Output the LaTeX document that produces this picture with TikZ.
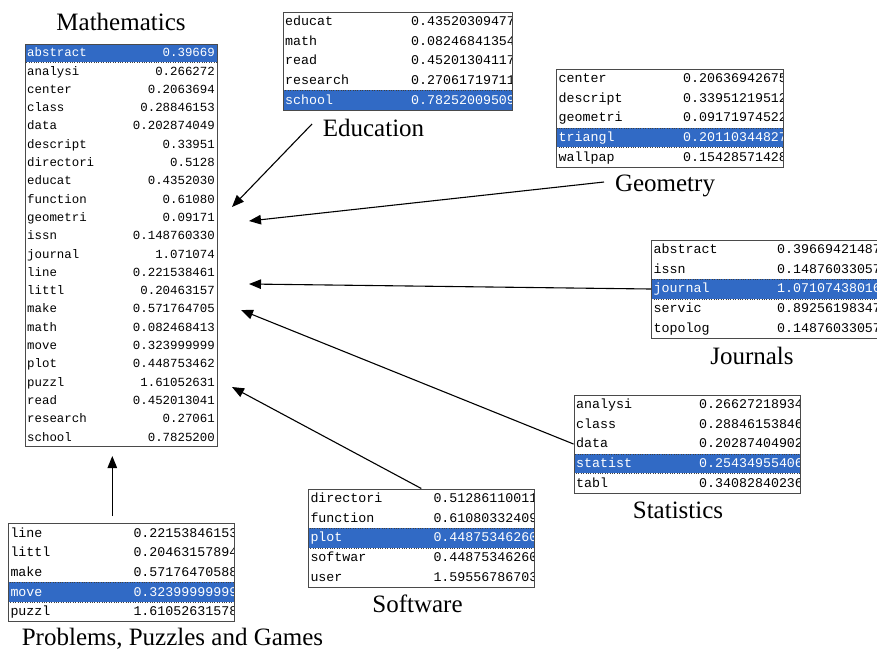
\documentclass[tikz,border=0pt]{standalone}
\usepackage{fontspec}
\setmainfont{Liberation Serif}
\setmonofont{Liberation Mono}
\usetikzlibrary{arrows.meta}

\definecolor{selblue}{HTML}{316AC5}
\definecolor{framegray}{HTML}{4A4A4A}
\newcommand{\bigtabfont}{\ttfamily\fontsize{12.4}{14}\selectfont}
\newcommand{\tabfont}{\ttfamily\fontsize{13.3}{15}\selectfont}

\tikzstyle{tablebox} = [draw = framegray, line width = 1pt, inner sep = 0pt]
\tikzstyle{selrow} = [fill = selblue, draw = black!75, dotted, thin]
\tikzstyle{word} = [anchor = base west, inner sep = 0pt, font = \tabfont]
\tikzstyle{bigword} = [anchor = base west, inner sep = 0pt, font = \bigtabfont]
\tikzstyle{bigval} = [anchor = base east, inner sep = 0pt, font = \bigtabfont]
\tikzstyle{title} = [anchor = base, inner sep = 0pt, font = \fontsize{25}{30}\selectfont]
\tikzstyle{arrow} = [line width = 1.1pt, -{Triangle[length = 12pt, width = 9.5pt]}]

\begin{document}
\begin{tikzpicture}[x = 1pt, y = -1pt]
        \useasboundingbox (0, 0) rectangle (877, 649);

        % Mathematics
        \fill[selrow] (25.5, 44) rectangle (217, 62.3);
        \foreach \i/\w/\v/\col in {0/abstract/0.39669/white, 1/analysi/0.266272/black,
          2/center/0.2063694/black, 3/class/0.28846153/black, 4/data/0.202874049/black,
          5/descript/0.33951/black, 6/directori/0.5128/black, 7/educat/0.4352030/black,
          8/function/0.61080/black, 9/geometri/0.09171/black, 10/issn/0.148760330/black,
          11/journal/1.071074/black, 12/line/0.221538461/black, 13/littl/0.20463157/black,
          14/make/0.571764705/black, 15/math/0.082468413/black, 16/move/0.323999999/black,
          17/plot/0.448753462/black, 18/puzzl/1.61052631/black, 19/read/0.452013041/black,
          20/research/0.27061/black, 21/school/0.7825200/black}
        {
          \node[bigword, text = \col] (mat-w\i) at (27, 44 + 18.3*\i + 12.75) {\w};
          \node[bigval, text = \col] (mat-v\i) at (215, 44 + 18.3*\i + 12.75) {\v};
        }
        \node[tablebox, minimum width = 191.5, minimum height = 402.5] (mat) at (121.25, 245.25) {};
        \node[title] (mat-title) at (121, 30) {Mathematics};

        % Education
        \begin{scope}
          \clip (283, 12) rectangle (512, 110);
          \fill[selrow] (283, 90.4) rectangle (512, 110);
          \foreach \i/\w/\v/\col in {0/educat/0.43520309477/black, 1/math/0.08246841354/black,
            2/read/0.45201304117/black, 3/research/0.27061719711/black, 4/school/0.78252009509/white}
          {
            \node[word, text = \col] (edu-w\i) at (285, 12 + 19.6*\i + 13.7) {\w};
            \node[word, text = \col] (edu-v\i) at (411, 12 + 19.6*\i + 13.7) {\v};
          }
        \end{scope}
        \node[tablebox, minimum width = 229, minimum height = 98] (edu) at (397.5, 61) {};
        \node[title] (edu-title) at (373.5, 136) {Education};

        % Geometry
        \begin{scope}
          \clip (556.5, 69) rectangle (783, 167);
          \fill[selrow] (556.5, 127.8) rectangle (783, 147.4);
          \foreach \i/\w/\v/\col in {0/center/0.20636942675/black, 1/descript/0.33951219512/black,
            2/geometri/0.09171974522/black, 3/triangl/0.20110344827/white, 4/wallpap/0.15428571428/black}
          {
            \node[word, text = \col] (geo-w\i) at (558.5, 69 + 19.6*\i + 13.7) {\w};
            \node[word, text = \col] (geo-v\i) at (683, 69 + 19.6*\i + 13.7) {\v};
          }
        \end{scope}
        \node[tablebox, minimum width = 226.5, minimum height = 98] (geo) at (669.75, 118) {};
        \node[title] (geo-title) at (665, 191) {Geometry};

        % Journals
        \begin{scope}
          \clip (651.5, 240) rectangle (877, 338);
          \fill[selrow] (651.5, 279.2) rectangle (877, 298.8);
          \foreach \i/\w/\v/\col in {0/abstract/0.39669421487/black, 1/issn/0.14876033057/black,
            2/journal/1.07107438016/white, 3/servic/0.89256198347/black, 4/topolog/0.14876033057/black}
          {
            \node[word, text = \col] (jou-w\i) at (653.5, 240 + 19.6*\i + 13.7) {\w};
            \node[word, text = \col] (jou-v\i) at (777, 240 + 19.6*\i + 13.7) {\v};
          }
        \end{scope}
        \node[tablebox, minimum width = 227, minimum height = 98] (jou) at (765, 289) {};
        \node[title] (jou-title) at (752, 364) {Journals};

        % Statistics
        \begin{scope}
          \clip (574, 395) rectangle (800, 493);
          \fill[selrow] (574, 453.8) rectangle (800, 473.4);
          \foreach \i/\w/\v/\col in {0/analysi/0.26627218934/black, 1/class/0.28846153846/black,
            2/data/0.20287404902/black, 3/statist/0.25434955406/white, 4/tabl/0.34082840236/black}
          {
            \node[word, text = \col] (sta-w\i) at (576, 395 + 19.6*\i + 13.7) {\w};
            \node[word, text = \col] (sta-v\i) at (699, 395 + 19.6*\i + 13.7) {\v};
          }
        \end{scope}
        \node[tablebox, minimum width = 226, minimum height = 98] (sta) at (687, 444) {};
        \node[title] (sta-title) at (678, 518) {Statistics};

        % Software
        \begin{scope}
          \clip (308.3, 489) rectangle (534.3, 587);
          \fill[selrow] (308.3, 528.2) rectangle (534.3, 547.8);
          \foreach \i/\w/\v/\col in {0/directori/0.51286110011/black, 1/function/0.61080332409/black,
            2/plot/0.44875346260/white, 3/softwar/0.44875346260/black, 4/user/1.59556786703/black}
          {
            \node[word, text = \col] (sof-w\i) at (310.3, 489 + 19.6*\i + 13.7) {\w};
            \node[word, text = \col] (sof-v\i) at (433.3, 489 + 19.6*\i + 13.7) {\v};
          }
        \end{scope}
        \node[tablebox, minimum width = 226, minimum height = 98] (sof) at (421.3, 538) {};
        \node[title] (sof-title) at (417.5, 612) {Software};

        % Problems, Puzzles and Games
        \begin{scope}
          \clip (8.3, 523.5) rectangle (234.3, 621.5);
          \fill[selrow] (8.3, 582.3) rectangle (234.3, 601.9);
          \foreach \i/\w/\v/\col in {0/line/0.22153846153/black, 1/littl/0.20463157894/black,
            2/make/0.57176470588/black, 3/move/0.32399999999/white, 4/puzzl/1.61052631578/black}
          {
            \node[word, text = \col] (pro-w\i) at (10.3, 523.5 + 19.6*\i + 13.7) {\w};
            \node[word, text = \col] (pro-v\i) at (133.3, 523.5 + 19.6*\i + 13.7) {\v};
          }
        \end{scope}
        \node[tablebox, minimum width = 226, minimum height = 98] (pro) at (121.3, 572.5) {};
        \node[title] (pro-title) at (172.5, 645) {Problems, Puzzles and Games};

        % Arrows into Mathematics
        \coordinate (edu-start) at (312, 124);
        \coordinate (geo-start) at (604, 182);
        \coordinate (pro-start) at (112.3, 516);
        \coordinate (edu-tip) at (232, 207);
        \coordinate (geo-tip) at (249, 221);
        \coordinate (jou-tip) at (249, 284);
        \coordinate (sta-tip) at (241, 310);
        \coordinate (sof-tip) at (232, 387);
        \coordinate (pro-tip) at (112.3, 456);
        \draw[arrow] (edu-start) -- (edu-tip);
        \draw[arrow] (geo-start) -- (geo-tip);
        \draw[arrow] (jou.west)  -- (jou-tip);
        \draw[arrow] (sta.west)  -- (sta-tip);
        \draw[arrow] (sof.north) -- (sof-tip);
        \draw[arrow] (pro-start) -- (pro-tip);
      \end{tikzpicture}
\end{document}
